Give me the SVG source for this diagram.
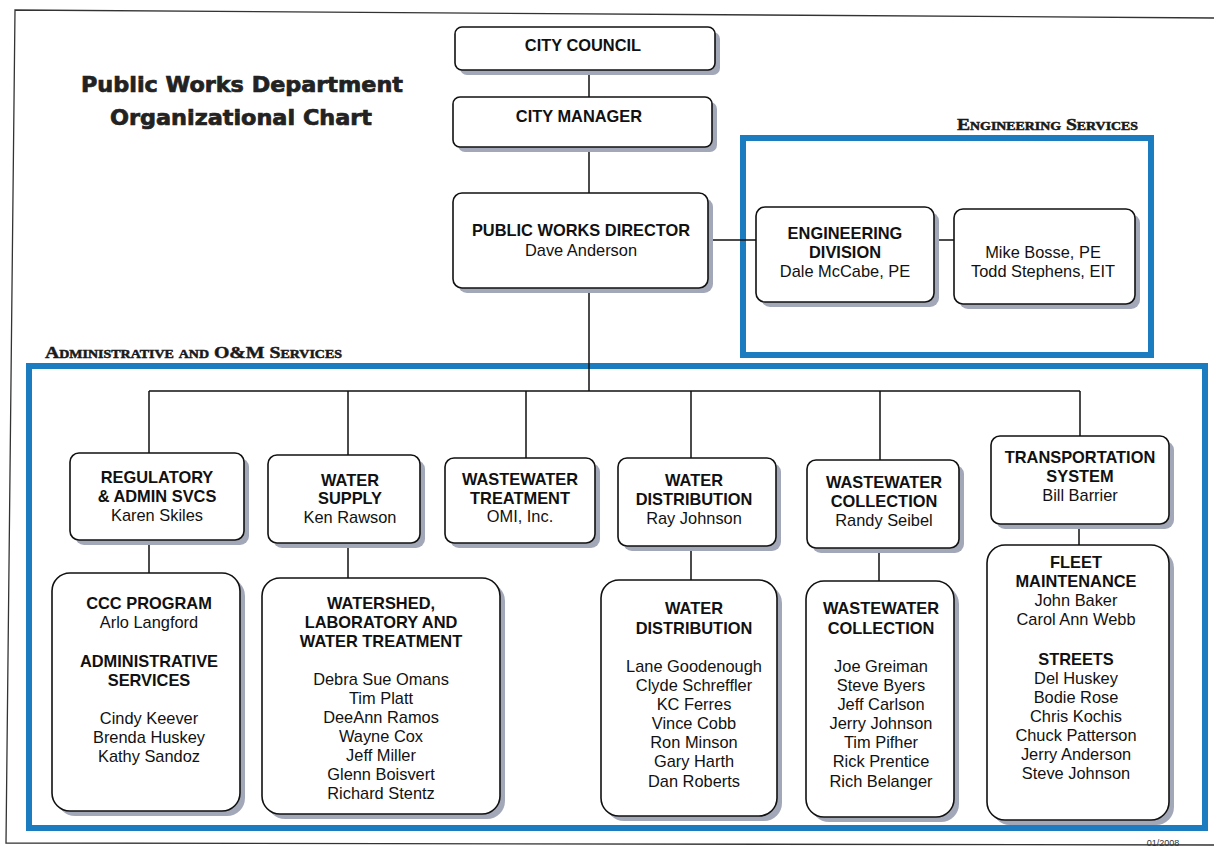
<svg xmlns="http://www.w3.org/2000/svg" width="1214" height="847" viewBox="0 0 1214 847">
<defs>
<style>
.sh{fill:#a3a8b8;}
.bx{fill:#fff;stroke:#111;stroke-width:1.6;}
.t{font-family:"Liberation Sans",Arial,sans-serif;font-size:16.4px;fill:#111;text-anchor:middle;}
.b{font-weight:bold;}
.frame{fill:none;stroke:#1c7cc0;stroke-width:6;}
.sec{font-family:"Liberation Serif","Times New Roman",serif;font-weight:bold;font-variant:small-caps;font-size:17px;fill:#1a1a1a;stroke:#1a1a1a;stroke-width:0.5;}
.ttl{font-family:"DejaVu Sans",sans-serif;font-weight:bold;font-size:21px;fill:#222;stroke:#222;stroke-width:0.7;text-anchor:middle;}
.ln{fill:none;stroke:#111;stroke-width:1.5;}
</style>
</defs>
<rect width="1214" height="847" fill="#fff"/>
<path d="M1214,18 L15,10 L6,843 L1214,845" fill="none" stroke="#333" stroke-width="1.3"/>
<text x="1163" y="846" font-family="Liberation Sans,Arial,sans-serif" font-size="9" fill="#333" text-anchor="middle">01/2008</text>

<g id="title">
<text class="ttl" x="242" y="92" textLength="322" lengthAdjust="spacingAndGlyphs">Public Works Department</text>
<text class="ttl" x="241" y="125" textLength="262" lengthAdjust="spacingAndGlyphs">Organizational Chart</text>
</g>

<g id="engineering-services">
<rect class="frame" x="743" y="138" width="408" height="217"/>
<text class="sec" x="957" y="130" textLength="181" lengthAdjust="spacingAndGlyphs">Engineering Services</text>
</g>
<g id="admin-services">
<rect class="frame" x="29" y="366" width="1176" height="462"/>
<text class="sec" x="45" y="358" textLength="297" lengthAdjust="spacingAndGlyphs">Administrative and O&amp;M Services</text>
</g>

<g id="connectors">
<path class="ln" d="M589,70 V97 M589,147 V193 M589,288 V391 M708,240 H757 M934,240 H954"/>
<path class="ln" d="M149,391 H1080 M149,391 V453 M348,391 V455 M526,391 V458 M691,391 V458 M880,391 V460 M1080,391 V436"/>
<path class="ln" d="M149,540 V573 M348,543 V578 M691,546 V580 M879,548 V581 M1079,524 V545"/>
</g>

<g id="city-council">
<rect class="sh" x="460" y="32" width="260" height="43" rx="7"/>
<rect class="bx" x="455" y="27" width="260" height="43" rx="7"/>
<text class="t b" x="583" y="51">CITY COUNCIL</text>
</g>
<g id="city-manager">
<rect class="sh" x="458" y="102" width="259" height="50" rx="7"/>
<rect class="bx" x="453" y="97" width="259" height="50" rx="7"/>
<text class="t b" x="579" y="122">CITY MANAGER</text>
</g>
<g id="public-works-director">
<rect class="sh" x="458" y="198" width="255" height="95" rx="9"/>
<rect class="bx" x="453" y="193" width="255" height="95" rx="9"/>
<text class="t b" x="581" y="236">PUBLIC WORKS DIRECTOR</text>
<text class="t" x="581" y="256">Dave Anderson</text>
</g>
<g id="engineering-division">
<rect class="sh" x="761" y="212" width="178" height="95" rx="9"/>
<rect class="bx" x="756" y="207" width="178" height="95" rx="9"/>
<text class="t b" x="845" y="239">ENGINEERING</text>
<text class="t b" x="845" y="258">DIVISION</text>
<text class="t" x="845" y="277">Dale McCabe, PE</text>
</g>
<g id="engineering-staff">
<rect class="sh" x="959" y="214" width="181" height="95" rx="9"/>
<rect class="bx" x="954" y="209" width="181" height="95" rx="9"/>
<text class="t" x="1043" y="258">Mike Bosse, PE</text>
<text class="t" x="1043" y="277">Todd Stephens, EIT</text>
</g>

<g id="regulatory">
<rect class="sh" x="75" y="458" width="174" height="87" rx="9"/>
<rect class="bx" x="70" y="453" width="174" height="87" rx="9"/>
<text class="t b" x="157" y="483">REGULATORY</text>
<text class="t b" x="157" y="502">&amp; ADMIN SVCS</text>
<text class="t" x="157" y="521">Karen Skiles</text>
</g>
<g id="water-supply">
<rect class="sh" x="273" y="460" width="152" height="88" rx="9"/>
<rect class="bx" x="268" y="455" width="152" height="88" rx="9"/>
<text class="t b" x="350" y="486">WATER</text>
<text class="t b" x="350" y="504">SUPPLY</text>
<text class="t" x="350" y="523">Ken Rawson</text>
</g>
<g id="wastewater-treatment">
<rect class="sh" x="450" y="463" width="150" height="85" rx="9"/>
<rect class="bx" x="445" y="458" width="150" height="85" rx="9"/>
<text class="t b" x="520" y="485">WASTEWATER</text>
<text class="t b" x="520" y="504">TREATMENT</text>
<text class="t" x="520" y="522">OMI, Inc.</text>
</g>
<g id="water-distribution">
<rect class="sh" x="623" y="463" width="158" height="88" rx="9"/>
<rect class="bx" x="618" y="458" width="158" height="88" rx="9"/>
<text class="t b" x="694" y="486">WATER</text>
<text class="t b" x="694" y="505">DISTRIBUTION</text>
<text class="t" x="694" y="524">Ray Johnson</text>
</g>
<g id="wastewater-collection">
<rect class="sh" x="812" y="465" width="152" height="88" rx="9"/>
<rect class="bx" x="807" y="460" width="152" height="88" rx="9"/>
<text class="t b" x="884" y="488">WASTEWATER</text>
<text class="t b" x="884" y="507">COLLECTION</text>
<text class="t" x="884" y="526">Randy Seibel</text>
</g>
<g id="transportation-system">
<rect class="sh" x="996" y="441" width="178" height="88" rx="9"/>
<rect class="bx" x="991" y="436" width="178" height="88" rx="9"/>
<text class="t b" x="1080" y="463">TRANSPORTATION</text>
<text class="t b" x="1080" y="482">SYSTEM</text>
<text class="t" x="1080" y="501">Bill Barrier</text>
</g>

<g id="ccc-admin-services">
<rect class="sh" x="57" y="578" width="188" height="238" rx="18"/>
<rect class="bx" x="52" y="573" width="188" height="238" rx="18"/>
<text class="t b" x="149" y="609">CCC PROGRAM</text>
<text class="t" x="149" y="628">Arlo Langford</text>
<text class="t b" x="149" y="667">ADMINISTRATIVE</text>
<text class="t b" x="149" y="686">SERVICES</text>
<text class="t" x="149" y="724">Cindy Keever</text>
<text class="t" x="149" y="743">Brenda Huskey</text>
<text class="t" x="149" y="762">Kathy Sandoz</text>
</g>
<g id="watershed-lab-treatment">
<rect class="sh" x="267" y="583" width="238" height="236" rx="18"/>
<rect class="bx" x="262" y="578" width="238" height="236" rx="18"/>
<text class="t b" x="381" y="609">WATERSHED,</text>
<text class="t b" x="381" y="628">LABORATORY AND</text>
<text class="t b" x="381" y="647">WATER TREATMENT</text>
<text class="t" x="381" y="685">Debra Sue Omans</text>
<text class="t" x="381" y="704">Tim Platt</text>
<text class="t" x="381" y="723">DeeAnn Ramos</text>
<text class="t" x="381" y="742">Wayne Cox</text>
<text class="t" x="381" y="761">Jeff Miller</text>
<text class="t" x="381" y="780">Glenn Boisvert</text>
<text class="t" x="381" y="799">Richard Stentz</text>
</g>
<g id="water-distribution-crew">
<rect class="sh" x="606" y="585" width="176" height="236" rx="18"/>
<rect class="bx" x="601" y="580" width="176" height="236" rx="18"/>
<text class="t b" x="694" y="614">WATER</text>
<text class="t b" x="694" y="634">DISTRIBUTION</text>
<text class="t" x="694" y="672">Lane Goodenough</text>
<text class="t" x="694" y="691">Clyde Schreffler</text>
<text class="t" x="694" y="710">KC Ferres</text>
<text class="t" x="694" y="729">Vince Cobb</text>
<text class="t" x="694" y="748">Ron Minson</text>
<text class="t" x="694" y="767">Gary Harth</text>
<text class="t" x="694" y="787">Dan Roberts</text>
</g>
<g id="wastewater-collection-crew">
<rect class="sh" x="811" y="586" width="148" height="236" rx="18"/>
<rect class="bx" x="806" y="581" width="148" height="236" rx="18"/>
<text class="t b" x="881" y="614">WASTEWATER</text>
<text class="t b" x="881" y="634">COLLECTION</text>
<text class="t" x="881" y="672">Joe Greiman</text>
<text class="t" x="881" y="691">Steve Byers</text>
<text class="t" x="881" y="710">Jeff Carlson</text>
<text class="t" x="881" y="729">Jerry Johnson</text>
<text class="t" x="881" y="748">Tim Pifher</text>
<text class="t" x="881" y="767">Rick Prentice</text>
<text class="t" x="881" y="787">Rich Belanger</text>
</g>
<g id="fleet-streets">
<rect class="sh" x="992" y="550" width="182" height="275" rx="18"/>
<rect class="bx" x="987" y="545" width="182" height="275" rx="18"/>
<text class="t b" x="1076" y="568">FLEET</text>
<text class="t b" x="1076" y="587">MAINTENANCE</text>
<text class="t" x="1076" y="606">John Baker</text>
<text class="t" x="1076" y="625">Carol Ann Webb</text>
<text class="t b" x="1076" y="665">STREETS</text>
<text class="t" x="1076" y="684">Del Huskey</text>
<text class="t" x="1076" y="703">Bodie Rose</text>
<text class="t" x="1076" y="722">Chris Kochis</text>
<text class="t" x="1076" y="741">Chuck Patterson</text>
<text class="t" x="1076" y="760">Jerry Anderson</text>
<text class="t" x="1076" y="779">Steve Johnson</text>
</g>
</svg>
